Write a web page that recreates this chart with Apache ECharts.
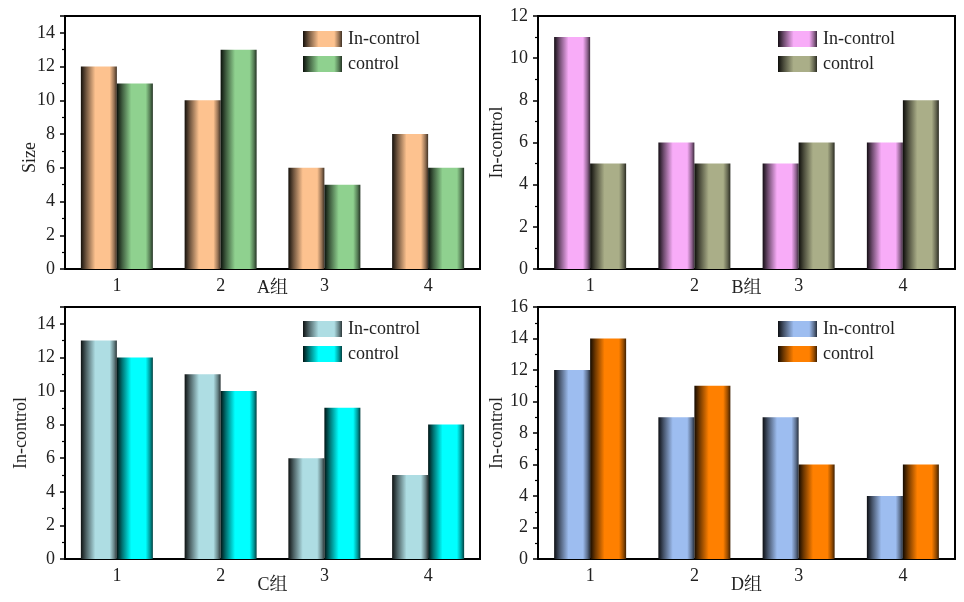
<!DOCTYPE html>
<html>
<head>
<meta charset="utf-8">
<script src="https://cdn.jsdelivr.net/npm/echarts@6/dist/echarts.min.js"></script>
<style>
html,body{margin:0;padding:0;background:#fff;}
#c{width:964px;height:602px;}
</style>
</head>
<body>
<div id="c"></div>
<script>
// ---- data ----
const categories = ['1', '2', '3', '4'];
const seriesNames = ['In-control', 'control'];
const groupNames = ['A组', 'B组', 'C组', 'D组'];
const yNames = ['Size', 'In-control', 'In-control', 'In-control'];
const yMax = [15, 12, 15, 16];
const aIn = [12, 10, 6, 8];
const aCtrl = [11, 13, 5, 6];
const bIn = [11, 6, 5, 6];
const bCtrl = [5, 5, 6, 8];
const cIn = [13, 11, 6, 5];
const cCtrl = [12, 10, 9, 8];
const dIn = [12, 9, 9, 4];
const dCtrl = [14, 11, 6, 6];
const panelData = [[aIn, aCtrl], [bIn, bCtrl], [cIn, cCtrl], [dIn, dCtrl]];

// ---- styles ----
const baseColors = [
  ['#FDC28F', '#8FD18F'],
  ['#F8ACF8', '#AAAE88'],
  ['#AEDDE3', '#00FFFF'],
  ['#9DBDF0', '#FF8000']
];
const grids = [
  {left: 65, top: 16, width: 415, height: 253},
  {left: 538, top: 16, width: 417, height: 253},
  {left: 65, top: 307, width: 415, height: 252},
  {left: 538, top: 307, width: 417, height: 252}
];
const legendPos = [
  {left: 298, top: 25},
  {left: 773, top: 25},
  {left: 298, top: 315},
  {left: 773, top: 315}
];
const yNameGap = [26, 32, 35, 32];
const yNamePad = [[0, 30, 0, 0], [0, 0, 0, 0], [0, 0, 0, 0], [0, 0, 0, 0]];
const xNameGap = [10, 10, 17, 17];

function shade(hex, f) {
  const r = parseInt(hex.slice(1, 3), 16), g = parseInt(hex.slice(3, 5), 16), b = parseInt(hex.slice(5, 7), 16);
  return 'rgb(' + Math.round(r * f) + ',' + Math.round(g * f) + ',' + Math.round(b * f) + ')';
}
function grad(hex) {
  return new echarts.graphic.LinearGradient(0, 0, 1, 0, [
    {offset: 0, color: shade(hex, 0.08)},
    {offset: 0.15, color: shade(hex, 0.45)},
    {offset: 0.4, color: hex},
    {offset: 0.8, color: hex},
    {offset: 0.92, color: shade(hex, 0.6)},
    {offset: 1, color: shade(hex, 0.25)}
  ]);
}

const FONT = "'Liberation Serif', 'Times New Roman', 'Noto Serif CJK SC', 'Noto Sans CJK SC', serif";
const txt = {fontFamily: FONT, fontSize: 18, color: '#222'};

const option = {
  backgroundColor: '#fff',
  animation: false,
  grid: [], xAxis: [], yAxis: [], series: [], legend: []
};

for (let p = 0; p < 4; p++) {
  option.grid.push(Object.assign({show: true, borderColor: '#000', borderWidth: 2, backgroundColor: 'transparent'}, grids[p]));
  option.xAxis.push({
    type: 'category', gridIndex: p, data: categories, position: 'bottom',
    name: groupNames[p], nameLocation: 'middle', nameGap: xNameGap[p], nameMoveOverlap: false,
    nameTextStyle: Object.assign({}, txt),
    axisLine: {lineStyle: {color: '#000', width: 2}},
    axisTick: {alignWithLabel: true, length: 5, lineStyle: {color: '#000', width: 1.5}},
    axisLabel: Object.assign({margin: 8}, txt),
    splitLine: {show: false}
  });
  option.xAxis.push({
    type: 'category', gridIndex: p, data: categories, position: 'bottom',
    axisLine: {show: false},
    axisTick: {alignWithLabel: false, length: 3, lineStyle: {color: '#000', width: 1.2}},
    axisLabel: {show: false},
    splitLine: {show: false}
  });
  option.yAxis.push({
    type: 'value', gridIndex: p, min: 0, max: yMax[p], interval: 2,
    name: yNames[p], nameLocation: 'middle', nameGap: yNameGap[p], nameMoveOverlap: false,
    nameTextStyle: Object.assign({padding: yNamePad[p]}, txt),
    axisLine: {show: true, lineStyle: {color: '#000', width: 2}},
    axisTick: {show: true, length: 5, lineStyle: {color: '#000', width: 1.5}},
    minorTick: {show: true, splitNumber: 2, length: 3, lineStyle: {color: '#000', width: 1.2}},
    axisLabel: Object.assign({margin: 10, showMaxLabel: yMax[p] % 2 === 0}, txt),
    splitLine: {show: false}
  });
  const legendData = [];
  for (let s = 0; s < 2; s++) {
    const name = seriesNames[s] + (p > 0 ? '\u200b'.repeat(p) : '');
    legendData.push(name);
    option.series.push({
      type: 'bar', name: name, xAxisIndex: p * 2, yAxisIndex: p,
      data: panelData[p][s], barWidth: 36, barGap: '0%',
      itemStyle: {color: grad(baseColors[p][s])}
    });
  }
  option.legend.push(Object.assign({
    data: legendData, orient: 'vertical', itemWidth: 39, itemHeight: 16, itemGap: 7,
    icon: 'rect', textStyle: Object.assign({}, txt, {padding: [0, 0, 0, 1]}),
    formatter: function (n) { return n.replace(/\u200b/g, ''); }
  }, legendPos[p]));
}

const chart = echarts.init(document.getElementById('c'), null, {renderer: 'canvas'});
chart.setOption(option);
</script>
</body>
</html>
